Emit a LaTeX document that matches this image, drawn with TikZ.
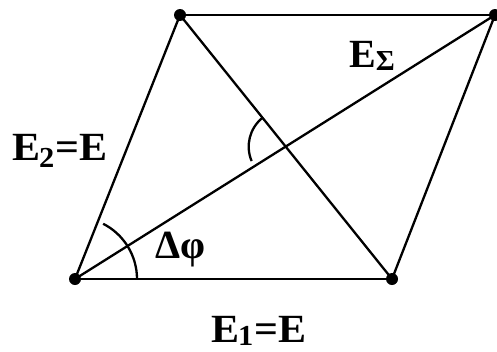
\documentclass[tikz,border=0pt]{standalone}
\usepackage{fontspec}
\setmainfont{Liberation Serif}
\usetikzlibrary{calc}
\newcommand{\lowsub}[2][7pt]{\raisebox{-#1}{\fontsize{29}{29}\selectfont #2}}
\begin{document}
\begin{tikzpicture}[x=1pt,y=-1pt]
\tikzset{
  dot/.style={circle,fill=black,inner sep=0pt,minimum size=12pt},
  edge/.style={line width=2.3pt,line cap=round},
  anglearc/.style={line width=2.3pt},
  lbl/.style={inner sep=0pt,anchor=base west,font=\fontsize{40}{44}\selectfont\bfseries}
}
\useasboundingbox (0,0) rectangle (497,351);
\fill[white] (0,0) rectangle (497,351);
\node[dot] (A) at (75,279) {};
\node[dot] (B) at (392,279) {};
\node[dot] (C) at (495,15) {};
\node[dot] (D) at (180,15) {};
\draw[edge] (A.center) -- (B.center);
\draw[edge] (B.center) -- (C.center);
\draw[edge] (C.center) -- (D.center);
\draw[edge] (D.center) -- (A.center);
\draw[edge] (A.center) -- (C.center);
\draw[edge] (D.center) -- (B.center);
\coordinate (O) at (intersection of A.center--C.center and D.center--B.center);
\draw[anglearc] (A.center) ++(0:62) arc[start angle=0,end angle=-63,radius=62];
\draw[anglearc] (O) ++(-129:37) arc[start angle=-129,end angle=-203,radius=37];
\node[lbl] (e2) at (12,160) {\scalebox{1.05}[1]{E\kern-1pt\lowsub{2}\kern1pt=E}};
\node[lbl] (e1) at (211,342) {\scalebox{1.05}[1]{E\kern-1pt\lowsub[3pt]{1}\kern1pt=E}};
\node[lbl] (es) at (349,67) {E\lowsub[3pt]{Σ}};
\node[lbl] (dp) at (155,258) {Δφ};
\end{tikzpicture}
\end{document}
